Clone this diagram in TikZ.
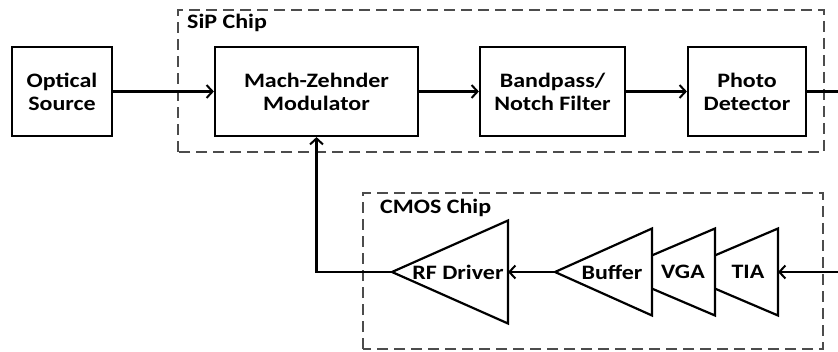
\documentclass[tikz,border=0pt]{standalone}
\usepackage{fontspec}
\setmainfont{Carlito}[FakeStretch=1.17]
\usetikzlibrary{arrows.meta, positioning}

\begin{document}
\begin{tikzpicture}[
    x=1pt, y=1pt,
    block/.style={rectangle, draw, line width=2.2pt, minimum height=89pt, inner sep=0pt, align=center, font=\fontsize{20.5}{23}\selectfont\bfseries},
    chip/.style={draw=black!70, line width=1.8pt, dash pattern=on 11pt off 6pt},
    chiptitle/.style={anchor=west, inner sep=0pt, font=\fontsize{20.5}{23}\selectfont\bfseries},
    amp/.style={draw, fill=white, line width=2.2pt, line join=miter},
    amptext/.style={inner sep=0pt, font=\fontsize{20.5}{23}\selectfont\bfseries},
    arrow/.style={-{Straight Barb[length=6pt, width=13pt, line width=2pt]}, line width=2.2pt}
]
    \useasboundingbox (0,0) rectangle (838,351);

    % chip outlines
    \draw[chip] (178,199) rectangle (824,341);
    \node[chiptitle] (sip) at (187,328) {SiP Chip};
    \draw[chip] (363,2) rectangle (823,158);
    \node[chiptitle] (cmos) at (380,143) {CMOS Chip};

    % optical path
    \node[block, minimum width=100pt] (src) at (62,259.5) {Optical\\Source};
    \node[block, minimum width=203pt] (mzm) at (316.5,259.5) {Mach-Zehnder\\Modulator};
    \node[block, minimum width=145pt] (filt) at (552.5,259.5) {Bandpass/\\Notch Filter};
    \node[block, minimum width=118pt] (pd) at (747,259.5) {Photo\\Detector};
    \coordinate (outR) at (838,259.5);
    \coordinate (inR) at (838,79);

    % amplifier chain
    \coordinate (tiaTip) at (676,79);  \coordinate (tiaBase) at (778,79);
    \coordinate (vgaTip) at (613,79);  \coordinate (vgaBase) at (715,79);
    \coordinate (bufTip) at (555,79);  \coordinate (bufBase) at (652,79);
    \coordinate (rfTip) at (392,79);   \coordinate (rfBase) at (508,79);
    \draw[amp] (tiaTip) -- ([yshift=43.5pt]tiaBase) -- ([yshift=-43.5pt]tiaBase) -- cycle;
    \draw[amp] (vgaTip) -- ([yshift=43.5pt]vgaBase) -- ([yshift=-43.5pt]vgaBase) -- cycle;
    \draw[amp] (bufTip) -- ([yshift=43.5pt]bufBase) -- ([yshift=-43.5pt]bufBase) -- cycle;
    \draw[amp] (rfTip) -- ([yshift=51.5pt]rfBase) -- ([yshift=-51.5pt]rfBase) -- cycle;
    \node[amptext] (tia) at (748,79) {TIA};
    \node[amptext] (vga) at (683,79) {VGA};
    \node[amptext] (buf) at (612,79) {Buffer};
    \node[amptext] (rf) at (458,79) {RF Driver};

    % connections
    \draw[arrow] (src) -- (mzm);
    \draw[arrow] (mzm) -- (filt);
    \draw[arrow] (filt) -- (pd);
    \draw[line width=2.2pt] (pd) -- (outR);
    \draw[arrow] (inR) -- (tiaBase);
    \draw[arrow] (bufTip) -- (rfBase);
    \draw[arrow] (rfTip) -| (mzm.south);
\end{tikzpicture}
\end{document}
